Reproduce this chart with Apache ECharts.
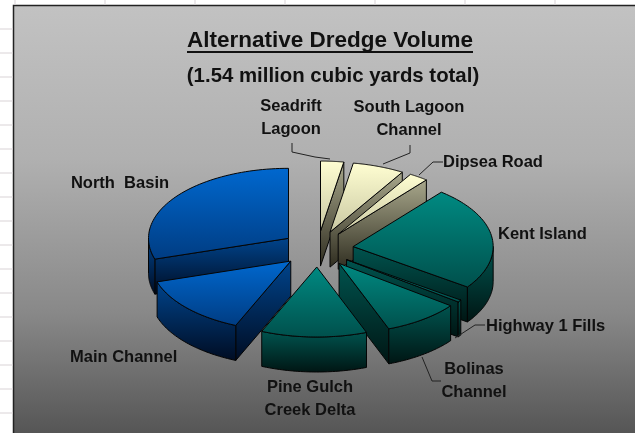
<!DOCTYPE html>
<html><head><meta charset="utf-8">
<style>html,body{margin:0;padding:0;background:#fff}#c{width:635px;height:433px}</style>
<script src="https://cdn.jsdelivr.net/npm/echarts@6/dist/echarts.min.js"></script>
</head><body><div id="c"></div>
<script>
// Thousand cubic yards (total 1540), clockwise from 12 o'clock
var categories = ['Seadrift\nLagoon','South Lagoon\nChannel','Dipsea Road','Kent Island','Highway 1 Fills','Bolinas\nChannel','Pine Gulch\nCreek Delta','Main Channel','North  Basin'];
var volumes = [41, 92, 34, 369, 8, 137, 188, 212, 459];
var families = ['cream','cream','cream','teal','teal','teal','teal','blue','blue'];

var palette = {
  cream:{top:['#fffed2','#c9c8a2'],wall:['#a9a88c','#2f2d20']},
  teal:{top:['#008a82','#00504c'],wall:['#00544f','#001513']},
  blue:{top:['#0068cf','#003c82'],wall:['#00448c','#000c22']}
};
var labelLayout = [
  {x:291,y:118,align:'center',leader:[[292,143],[292,152],[315,157],[330,159]]},
  {x:409,y:119,align:'center',leader:[[410,145],[410,153],[383,164]]},
  {x:443,y:162,align:'left',leader:[[443,162],[433,162],[419,175]]},
  {x:498,y:234,align:'left'},
  {x:486,y:326,align:'left',leader:[[485,325],[475,325],[455,338]]},
  {x:474,y:381,align:'center',leader:[[422,357],[432,381],[441,381]]},
  {x:310,y:399,align:'center'},
  {x:70,y:357,align:'left'},
  {x:120,y:183,align:'center'}
];
var geo = {cx:317.5,cy:249,R:140,k:0.5,h:35,explode:36};
var total = volumes.reduce(function(a,b){return a+b;},0);
var starts = []; volumes.reduce(function(acc,v,i){starts[i]=acc;return acc+v;},0);
var rad = function(v){return v/total*2*Math.PI;};

function grad(c){return {type:'linear',x:0,y:0,x2:0,y2:1,colorStops:[{offset:0,color:c[0]},{offset:1,color:c[1]}]};}
var edge = {stroke:'#050505',lineWidth:1,lineJoin:'round'};
function poly(points,colors,z2){
  return {type:'polygon',z2:z2,shape:{points:points},style:{fill:grad(colors),stroke:edge.stroke,lineWidth:edge.lineWidth,lineJoin:edge.lineJoin}};
}
function renderItem(params,api){
  var i = params.dataIndex, v = api.value(0);
  var a0 = rad(starts[i]), a1 = a0+rad(v), mid=(a0+a1)/2;
  var ax = geo.cx+geo.explode*Math.sin(mid), ay = geo.cy-geo.explode*geo.k*Math.cos(mid);
  var pt = function(a){return [ax+geo.R*Math.sin(a), ay-geo.R*geo.k*Math.cos(a)];};
  var drop = function(p){return [p[0],p[1]+geo.h];};
  var base = 10+Math.round(-Math.cos(mid)*50)*10;
  var pal = palette[families[i]], kids=[];
  if(Math.sin(a0)<-1e-6) kids.push(poly([[ax,ay],pt(a0),drop(pt(a0)),[ax,ay+geo.h]],pal.wall,base));
  if(Math.sin(a1)>1e-6) kids.push(poly([[ax,ay],pt(a1),drop(pt(a1)),[ax,ay+geo.h]],pal.wall,base));
  var lo=Math.max(a0,Math.PI/2), hi=Math.min(a1,1.5*Math.PI);
  if(hi>lo){
    var up=[],dn=[];
    for(var s=0;s<=40;s++){var p=pt(lo+(hi-lo)*s/40);up.push(p);dn.unshift(drop(p));}
    kids.push(poly(up.concat(dn),pal.wall,base+1));
  }
  var top=[[ax,ay]];
  for(var t=0;t<=60;t++) top.push(pt(a0+(a1-a0)*t/60));
  kids.push(poly(top,pal.top,base+2));
  var L=labelLayout[i];
  if(L.leader) kids.push({type:'polyline',z2:2000,shape:{points:L.leader},style:{fill:null,stroke:'#222',lineWidth:1}});
  kids.push({type:'text',z2:2001,x:L.x,y:L.y,style:{text:categories[i],fill:'#111',font:'bold 16.5px "Liberation Sans"',align:L.align,verticalAlign:'middle',lineHeight:23}});
  return {type:'group',children:kids};
}
var chart = echarts.init(document.getElementById('c'),null,{renderer:'canvas'});
var gridEls=[];
[29,53,77,101,125,149,173,197,221,245,269,293,317,341,365,389,413].forEach(function(y){
  gridEls.push({type:'line',shape:{x1:0,y1:y,x2:13,y2:y},style:{stroke:'#d9d3d6',lineWidth:1}});
});
[15,105,195,285,375,465,555].forEach(function(x){
  gridEls.push({type:'line',shape:{x1:x,y1:0,x2:x,y2:5},style:{stroke:'#d9d3d6',lineWidth:1}});
});
chart.setOption({
  animation:false,
  backgroundColor:'#ffffff',
  title:{text:'(1.54 million cubic yards total)',left:328,top:71,textAlign:'center',textVerticalAlign:'middle',textStyle:{fontFamily:'Liberation Sans',fontWeight:'bold',fontSize:20.4,color:'#111'}},
  graphic:{elements:gridEls.concat([
    {type:'rect',z:-1,shape:{x:13.5,y:5.5,width:640,height:440},style:{stroke:'#222',lineWidth:1.5,fill:{type:'linear',x:0,y:0,x2:0,y2:1,colorStops:[{offset:0,color:'#c2c2c2'},{offset:0.35,color:'#b0b0b0'},{offset:0.7,color:'#888888'},{offset:1,color:'#505050'}]}}},
    {type:'text',z:5,x:330,y:41,style:{text:'Alternative Dredge Volume',fill:'#111',font:'bold 22.5px "Liberation Sans"',align:'center',verticalAlign:'middle'}},
    {type:'line',z:5,shape:{x1:187,y1:52,x2:473,y2:52},style:{stroke:'#111',lineWidth:2}}
  ])},
  series:[{type:'custom',coordinateSystem:'none',renderItem:renderItem,data:volumes.map(function(v){return [v];}),silent:true,clip:false}]
});
</script></body></html>
